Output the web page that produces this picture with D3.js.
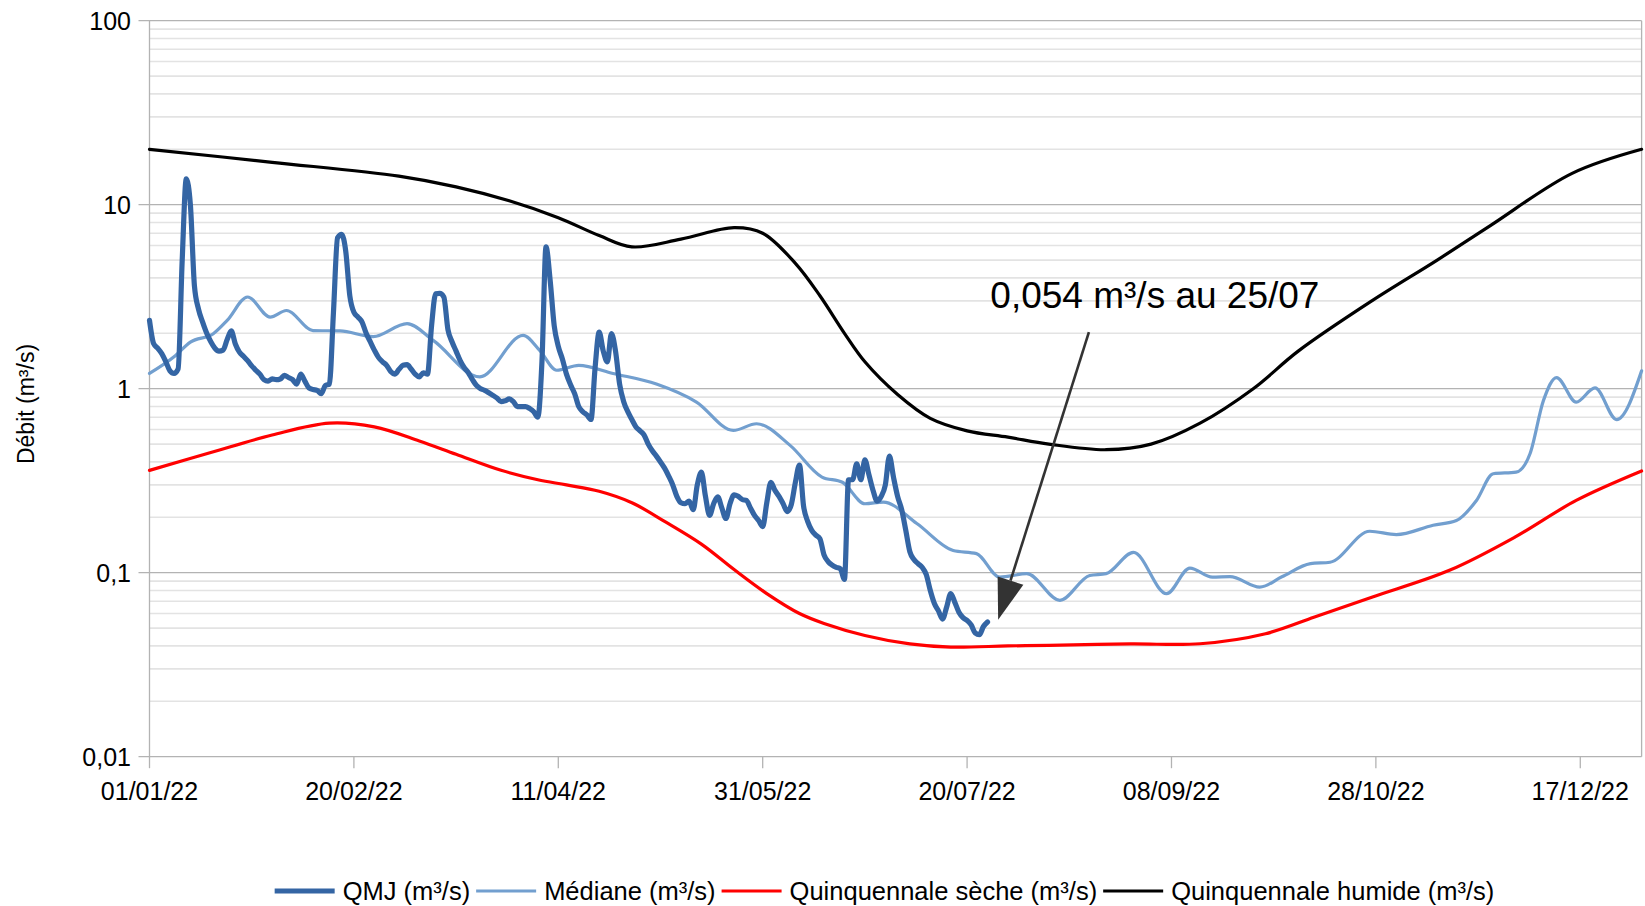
<!DOCTYPE html>
<html>
<head>
<meta charset="utf-8">
<script src="https://cdn.jsdelivr.net/npm/d3@7"></script>
<style>
  html, body { margin: 0; padding: 0; background: #fff; }
  svg { display: block; font-family: "Liberation Sans", Arial, sans-serif; }
</style>
</head>
<body>
<svg id="chart" width="1645" height="906"></svg>
<script>
// x tick labels (every 50 days) and y tick labels (log decades)
const xTickLabels = ["01/01/22", "20/02/22", "11/04/22", "31/05/22", "20/07/22", "08/09/22", "28/10/22", "17/12/22"];
const yTickValues = [0.01, 0.1, 1, 10, 100];
const yTickLabels = ["0,01", "0,1", "1", "10", "100"];

const seriesNames = ["QMJ (m³/s)", "Médiane (m³/s)", "Quinquennale sèche (m³/s)", "Quinquennale humide (m³/s)"];

// QMJ : one value per day from 01/01/22 to 25/07/22
const qmjValues = [
  2.35, 1.76, 1.66, 1.55, 1.4, 1.25, 1.21, 1.28, 5.0, 13.8,
  10.0, 3.6, 2.7, 2.3, 2.0, 1.8, 1.66, 1.6, 1.62, 1.85,
  2.06, 1.75, 1.58, 1.5, 1.42, 1.33, 1.26, 1.2, 1.12, 1.1,
  1.13, 1.12, 1.13, 1.18, 1.15, 1.12, 1.06, 1.2, 1.1, 1.01,
  0.99, 0.98, 0.94, 1.04, 1.06, 2.6, 6.6, 6.9, 5.6, 3.2,
  2.6, 2.45, 2.3, 2.0, 1.8, 1.62, 1.48, 1.4, 1.34, 1.24,
  1.2, 1.27, 1.34, 1.35, 1.28, 1.2, 1.16, 1.22, 1.2, 2.2,
  3.28, 3.3, 3.15, 2.1, 1.8, 1.6, 1.42, 1.3, 1.22, 1.12,
  1.04, 1.0, 0.98, 0.95, 0.92, 0.89, 0.85, 0.86, 0.88, 0.85,
  0.8, 0.8, 0.8, 0.78, 0.75, 0.7, 1.4, 5.9, 3.9, 2.2,
  1.7, 1.45, 1.2, 1.05, 0.94, 0.8, 0.75, 0.72, 0.68, 1.3,
  2.03, 1.6, 1.4, 1.99, 1.6, 1.06, 0.85, 0.75, 0.68, 0.62,
  0.59, 0.56, 0.5, 0.46, 0.43, 0.4, 0.37, 0.335, 0.3, 0.26,
  0.24, 0.237, 0.245, 0.22, 0.3, 0.352, 0.26, 0.205, 0.237, 0.258,
  0.225, 0.197, 0.237, 0.265, 0.26, 0.25, 0.247, 0.225, 0.205, 0.192,
  0.178, 0.24, 0.31, 0.28, 0.26, 0.237, 0.215, 0.235, 0.31, 0.385,
  0.23, 0.19, 0.17, 0.16, 0.153, 0.125, 0.115, 0.11, 0.107, 0.105,
  0.092, 0.32, 0.32, 0.39, 0.32, 0.41, 0.34, 0.28, 0.245, 0.26,
  0.3, 0.43, 0.33, 0.26, 0.22, 0.17, 0.13, 0.118, 0.112, 0.107,
  0.098, 0.08, 0.068, 0.062, 0.056, 0.065, 0.077, 0.069, 0.061, 0.057,
  0.055, 0.052, 0.047, 0.046, 0.051, 0.054
];

// Médiane : day of year, value
const medianeDays = [0, 6, 10, 15.6, 19, 24, 29.5, 33.5, 40, 46.6, 54.7, 63, 69.4, 80.8, 91.4, 95.5, 99.6, 105,
  113.4, 124, 133.8, 142.8, 148.5, 156.7, 164.5, 169.5, 175, 179.5, 187.7, 196.6, 202.3, 208, 214.6, 222.7,
  230, 234, 240.7, 248.8, 254.5, 260, 264.3, 271.6, 277, 284, 288.8, 298.5, 305, 314, 319.7, 324.6, 328.7,
  334.3, 337.7, 341, 344.2, 349, 353.6, 358.9, 365];
const medianeValues = [1.21, 1.49, 1.79, 1.99, 2.35, 3.15, 2.45, 2.66, 2.07, 2.06, 1.92, 2.26, 1.83, 1.16, 1.95, 1.61, 1.26, 1.34,
  1.21, 1.06, 0.846, 0.593, 0.645, 0.492, 0.331, 0.31, 0.237, 0.242, 0.185, 0.132, 0.127, 0.0946, 0.0988, 0.0708,
  0.0966, 0.0988, 0.129, 0.0769, 0.106, 0.0946, 0.0953, 0.0835, 0.095, 0.112, 0.114, 0.168, 0.161, 0.181, 0.192, 0.247, 0.345,
  0.352, 0.443, 0.864, 1.15, 0.846, 1.01, 0.679, 1.25];

// Quinquennale sèche
const secheDays = [0, 15, 30, 44, 55, 66, 75, 86, 95, 102, 110, 118, 126, 135, 143, 151, 159, 165, 175, 186, 196,
  210, 220, 240, 257, 273, 285, 299, 318, 334, 349, 365];
const secheValues = [0.36, 0.45, 0.56, 0.65, 0.62, 0.52, 0.44, 0.36, 0.32, 0.30, 0.277, 0.24, 0.19, 0.143, 0.104, 0.077, 0.06, 0.053, 0.0456, 0.041, 0.0394,
  0.040, 0.0403, 0.041, 0.0411, 0.0466, 0.0574, 0.0736, 0.103, 0.156, 0.247, 0.357];

// Quinquennale humide
const humideDays = [0, 30, 61, 75, 88, 100, 110, 118, 130, 143, 150, 158, 164, 170, 175, 183, 191, 200, 210, 220,
  234, 245, 257, 270, 281, 299, 315, 328, 348, 365];
const humideValues = [20, 17, 14.3, 12.5, 10.5, 8.5, 6.8, 5.9, 6.5, 7.5, 7, 4.8, 3.2, 2.0, 1.4, 0.93, 0.69, 0.59, 0.545, 0.5,
  0.466, 0.5, 0.65, 1.0, 1.6, 3.0, 5.0, 7.7, 14.8, 20];

const annotationText = "0,054 m³/s au 25/07";

const svg = d3.select("#chart");
const margin = { left: 149.5, right: 1641.6, top: 20.7, bottom: 756.7 };

const parseDate = d3.timeParse("%d/%m/%y");
const startDate = parseDate("01/01/22");

const x = d3.scaleLinear().domain([0, 365]).range([margin.left, margin.right]);
const y = d3.scaleLog().domain([0.01, 100]).range([margin.bottom, margin.top]);

// minor grid
const minorValues = [];
[0.01, 0.1, 1, 10].forEach((base) => {
  for (let k = 2; k <= 9; k++) minorValues.push(base * k);
});

svg.append("g")
  .selectAll("line")
  .data(minorValues)
  .enter()
  .append("line")
  .attr("x1", margin.left)
  .attr("x2", margin.right)
  .attr("y1", (d) => y(d))
  .attr("y2", (d) => y(d))
  .attr("stroke", "#e3e3e3")
  .attr("stroke-width", 1.6);

// major grid
svg.append("g")
  .selectAll("line")
  .data(yTickValues)
  .enter()
  .append("line")
  .attr("x1", margin.left - 11)
  .attr("x2", margin.right)
  .attr("y1", (d) => y(d))
  .attr("y2", (d) => y(d))
  .attr("stroke", "#b3b3b3")
  .attr("stroke-width", 1.3);

// left and right borders
svg.append("line")
  .attr("x1", margin.left).attr("x2", margin.left)
  .attr("y1", margin.top).attr("y2", margin.bottom)
  .attr("stroke", "#b3b3b3").attr("stroke-width", 1.3);
svg.append("line")
  .attr("x1", margin.right).attr("x2", margin.right)
  .attr("y1", margin.top).attr("y2", margin.bottom)
  .attr("stroke", "#b3b3b3").attr("stroke-width", 1.3);

// x ticks
const xTickDays = xTickLabels.map((s) => d3.timeDay.count(startDate, parseDate(s)));
svg.append("g")
  .selectAll("line")
  .data(xTickDays)
  .enter()
  .append("line")
  .attr("x1", (d) => x(d))
  .attr("x2", (d) => x(d))
  .attr("y1", margin.bottom)
  .attr("y2", margin.bottom + 11.5)
  .attr("stroke", "#b3b3b3")
  .attr("stroke-width", 1.3);

svg.append("g")
  .selectAll("text")
  .data(xTickLabels)
  .enter()
  .append("text")
  .attr("x", (d, i) => x(xTickDays[i]))
  .attr("y", 800)
  .attr("text-anchor", "middle")
  .attr("font-size", "25px")
  .attr("fill", "#000")
  .text((d) => d);

// y labels
svg.append("g")
  .selectAll("text")
  .data(yTickValues)
  .enter()
  .append("text")
  .attr("x", 131)
  .attr("y", (d) => y(d) + 9)
  .attr("text-anchor", "end")
  .attr("font-size", "25px")
  .attr("fill", "#000")
  .text((d, i) => yTickLabels[i]);

svg.append("text")
  .attr("transform", "translate(33.5,404) rotate(-90)")
  .attr("text-anchor", "middle")
  .attr("font-size", "23px")
  .attr("fill", "#000")
  .text("Débit (m³/s)");

// series
function drawSeries(days, values, color, width, curve) {
  const line = d3.line()
    .x((d) => x(d[0]))
    .y((d) => y(d[1]))
    .curve(curve);
  svg.append("path")
    .datum(days.map((d, i) => [d, values[i]]))
    .attr("fill", "none")
    .attr("stroke", color)
    .attr("stroke-width", width)
    .attr("stroke-linejoin", "round")
    .attr("stroke-linecap", "round")
    .attr("d", line);
}

const qmjDays = qmjValues.map((v, i) => i);

drawSeries(humideDays, humideValues, "#000000", 3.2, d3.curveCatmullRom.alpha(0.5));
drawSeries(secheDays, secheValues, "#ff0000", 3.2, d3.curveCatmullRom.alpha(0.5));
drawSeries(medianeDays, medianeValues, "#729fcf", 3.2, d3.curveMonotoneX);
drawSeries(qmjDays, qmjValues, "#3465a4", 5.2, d3.curveMonotoneX);

// annotation arrow
const tip = [x(207.6), y(0.0555)];
const from = [x(229.8), y(2.03)];
const dx = tip[0] - from[0], dy = tip[1] - from[1];
const len = Math.sqrt(dx * dx + dy * dy);
const ux = dx / len, uy = dy / len;
const headLen = 41, headHalf = 13.5;
const base = [tip[0] - ux * headLen, tip[1] - uy * headLen];

svg.append("line")
  .attr("x1", from[0]).attr("y1", from[1])
  .attr("x2", base[0]).attr("y2", base[1])
  .attr("stroke", "#333333")
  .attr("stroke-width", 2.6);

svg.append("path")
  .attr("d", "M" + tip[0] + "," + tip[1] +
    "L" + (base[0] - uy * headHalf) + "," + (base[1] + ux * headHalf) +
    "L" + (base[0] + uy * headHalf) + "," + (base[1] - ux * headHalf) + "Z")
  .attr("fill", "#333333");

svg.append("text")
  .attr("x", from[0] + 66)
  .attr("y", from[1] - 24)
  .attr("text-anchor", "middle")
  .attr("font-size", "37px")
  .attr("fill", "#000")
  .text(annotationText);

// legend
const legendColors = ["#3465a4", "#729fcf", "#ff0000", "#000000"];
const legendWidths = [5.2, 3.2, 3.2, 3.2];
const legend = svg.append("g");
let cx = 0;
seriesNames.forEach((name, i) => {
  const g = legend.append("g").attr("transform", "translate(" + cx + ",0)");
  g.append("line")
    .attr("x1", 0).attr("x2", 60)
    .attr("y1", 891).attr("y2", 891)
    .attr("stroke", legendColors[i])
    .attr("stroke-width", legendWidths[i]);
  const t = g.append("text")
    .attr("x", 68)
    .attr("y", 900)
    .attr("font-size", "25.5px")
    .attr("fill", "#000")
    .text(name);
  cx += 68 + t.node().getComputedTextLength() + 6;
});
legend.attr("transform", "translate(" + (884.5 - (cx - 6) / 2) + ",0)");
</script>
</body>
</html>
